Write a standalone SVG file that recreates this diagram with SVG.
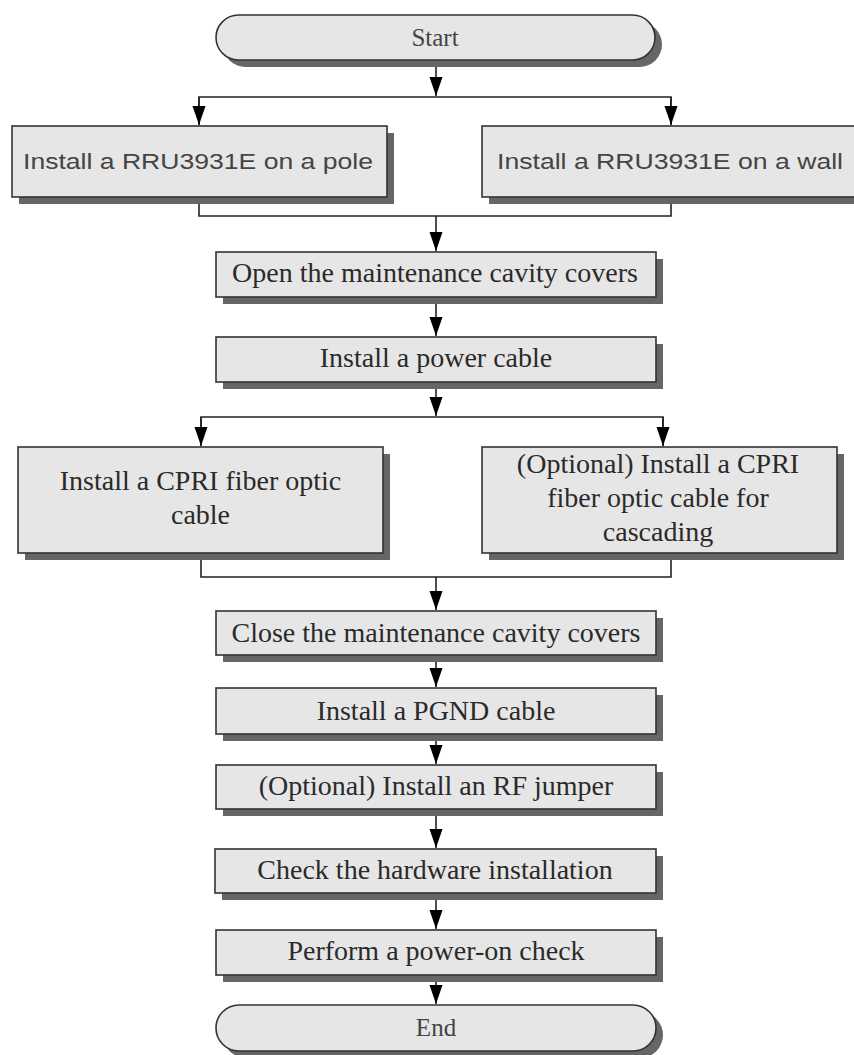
<svg xmlns="http://www.w3.org/2000/svg" width="854" height="1055" viewBox="0 0 854 1055">
<defs>
<style>
.box{fill:#e6e6e6;stroke:#333;stroke-width:1.6}
.sh{fill:#666}
.t{font-family:"Liberation Serif","Times New Roman",serif;font-size:28px;fill:#2a2a2a;text-anchor:middle}
.ts{font-family:"Liberation Serif","Times New Roman",serif;font-size:25px;fill:#444;text-anchor:middle}
.s{font-family:"Liberation Sans",Arial,sans-serif;font-size:22px;fill:#444;text-anchor:middle}
.c{fill:none;stroke:#222;stroke-width:1.6}
</style>
<marker id="ah" markerUnits="userSpaceOnUse" markerWidth="20" markerHeight="14" viewBox="0 0 20 14" refX="19" refY="7" orient="auto">
<path d="M0,0.5 L19,7 L0,13.5 Z" fill="#000"/>
</marker>
</defs>
<rect width="854" height="1055" fill="#fff"/>

<g id="connectors">
<path class="c" d="M436,60 V96" marker-end="url(#ah)"/>
<path class="c" d="M199,125 V97 H671 V125"/>
<path class="c" d="M199,97 V125" marker-end="url(#ah)"/>
<path class="c" d="M671,97 V125" marker-end="url(#ah)"/>
<path class="c" d="M199,197 V216 H671 V197"/>
<path class="c" d="M436,216 V251" marker-end="url(#ah)"/>
<path class="c" d="M436,297 V336" marker-end="url(#ah)"/>
<path class="c" d="M436,382 V416" marker-end="url(#ah)"/>
<path class="c" d="M201,446 V417 H663 V446"/>
<path class="c" d="M201,417 V446" marker-end="url(#ah)"/>
<path class="c" d="M663,417 V446" marker-end="url(#ah)"/>
<path class="c" d="M201,553 V577 H671 V553"/>
<path class="c" d="M436,577 V610" marker-end="url(#ah)"/>
<path class="c" d="M436,655 V687" marker-end="url(#ah)"/>
<path class="c" d="M436,734 V764" marker-end="url(#ah)"/>
<path class="c" d="M436,809 V848" marker-end="url(#ah)"/>
<path class="c" d="M436,893 V929" marker-end="url(#ah)"/>
<path class="c" d="M436,975 V1004" marker-end="url(#ah)"/>
</g>

<g id="start">
<rect class="sh" x="223" y="22" width="439" height="45" rx="22.5"/>
<rect class="box" x="216" y="15" width="439" height="45" rx="22.5"/>
<text class="ts" x="435" y="46">Start</text>
</g>

<g id="pole">
<rect class="sh" x="19" y="133" width="375" height="71"/>
<rect class="box" x="12" y="126" width="375" height="71"/>
<text class="s" x="198" y="169" textLength="350" lengthAdjust="spacingAndGlyphs">Install a RRU3931E on a pole</text>
</g>

<g id="wall">
<rect class="sh" x="489" y="133" width="376" height="71"/>
<rect class="box" x="482" y="126" width="376" height="71"/>
<text class="s" x="670" y="169" textLength="346" lengthAdjust="spacingAndGlyphs">Install a RRU3931E on a wall</text>
</g>

<g id="open">
<rect class="sh" x="223" y="259" width="440" height="45"/>
<rect class="box" x="216" y="252" width="440" height="45"/>
<text class="t" x="435" y="282">Open the maintenance cavity covers</text>
</g>

<g id="power">
<rect class="sh" x="223" y="344" width="440" height="45"/>
<rect class="box" x="216" y="337" width="440" height="45"/>
<text class="t" x="436" y="367">Install a power cable</text>
</g>

<g id="cpri">
<rect class="sh" x="25" y="454" width="365" height="106"/>
<rect class="box" x="18" y="447" width="365" height="106"/>
<text class="t" x="200.5" y="490">Install a CPRI fiber optic</text>
<text class="t" x="200.5" y="524">cable</text>
</g>

<g id="cpri-cascade">
<rect class="sh" x="489" y="454" width="355" height="106"/>
<rect class="box" x="482" y="447" width="355" height="106"/>
<text class="t" x="658" y="473">(Optional) Install a CPRI</text>
<text class="t" x="658" y="507">fiber optic cable for</text>
<text class="t" x="658" y="541">cascading</text>
</g>

<g id="close">
<rect class="sh" x="223" y="618" width="440" height="44"/>
<rect class="box" x="216" y="611" width="440" height="44"/>
<text class="t" x="436" y="642">Close the maintenance cavity covers</text>
</g>

<g id="pgnd">
<rect class="sh" x="223" y="695" width="440" height="46"/>
<rect class="box" x="216" y="688" width="440" height="46"/>
<text class="t" x="436" y="720">Install a PGND cable</text>
</g>

<g id="rf">
<rect class="sh" x="223" y="772" width="440" height="44"/>
<rect class="box" x="216" y="765" width="440" height="44"/>
<text class="t" x="436" y="795">(Optional) Install an RF jumper</text>
</g>

<g id="check">
<rect class="sh" x="222" y="856" width="441" height="44"/>
<rect class="box" x="215" y="849" width="441" height="44"/>
<text class="t" x="435" y="879">Check the hardware installation</text>
</g>

<g id="poweron">
<rect class="sh" x="223" y="937" width="440" height="45"/>
<rect class="box" x="216" y="930" width="440" height="45"/>
<text class="t" x="436" y="960">Perform a power-on check</text>
</g>

<g id="end">
<rect class="sh" x="223" y="1012" width="440" height="46" rx="23"/>
<rect class="box" x="216" y="1005" width="440" height="46" rx="23"/>
<text class="ts" x="436" y="1036">End</text>
</g>
</svg>
